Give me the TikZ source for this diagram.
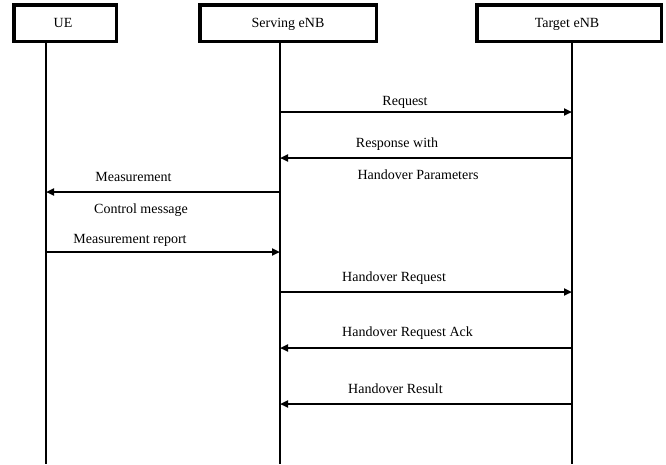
\documentclass[tikz,border=0pt]{standalone}
\usepackage{fontspec}
\setmainfont{Liberation Serif}
\usetikzlibrary{arrows.meta}
\tikzset{
	entity/.style={draw,line width=3.5pt,inner sep=0pt,minimum height=36.5pt},
	life/.style={line width=2pt},
	msg/.style={line width=2.3pt,-{Triangle[length=8pt,width=7pt]}},
	lbl/.style={anchor=base,inner sep=0pt}
}
\begin{document}
\begin{tikzpicture}[x=1pt,y=-1pt,font=\fontsize{14}{16}\selectfont]
\useasboundingbox (0,0) rectangle (666,464);
\node [entity,minimum width=102.5pt] (ue) at (65,23) {};
\node [entity,minimum width=176.5pt] (serving) at (288,23) {};
\node [entity,minimum width=184.5pt] (target) at (569,23) {};
\node [lbl] (uetext) at (63,27) {UE};
\node [lbl] (servingtext) at (288,27) {Serving eNB};
\node [lbl] (targettext) at (567,27) {Target eNB};
\coordinate (uebot) at (46,464);
\coordinate (servingbot) at (280,464);
\coordinate (targetbot) at (572,464);
\draw [life] (ue.south -| uebot) -- (uebot);
\draw [life] (serving.south -| servingbot) -- (servingbot);
\draw [life] (target.south -| targetbot) -- (targetbot);
\foreach \n/\y in {1/112,2/158,3/192,4/252,5/292,6/348,7/404}{
	\coordinate (u\n) at (46,\y);
	\coordinate (s\n) at (280,\y);
	\coordinate (t\n) at (572,\y);
}
\draw [msg] (s1) -- (t1);
\draw [msg] (t2) -- (s2);
\draw [msg] (s3) -- (u3);
\draw [msg] (u4) -- (s4);
\draw [msg] (s5) -- (t5);
\draw [msg] (t6) -- (s6);
\draw [msg] (t7) -- (s7);
\node [lbl] (request) at (405,105) {Request};
\node [lbl] (response) at (397,147) {Response with};
\node [lbl] (params) at (418,179) {Handover Parameters};
\node [lbl] (meas) at (133.5,181) {Measurement};
\node [lbl,anchor=base west] (control) at (94,213) {Control message};
\node [lbl] (report) at (130,243) {Measurement report};
\node [lbl,anchor=base west] (horeq) at (342,281) {Handover Request};
\node [lbl,anchor=base west] (hoack) at (342,336) {Handover Request Ack};
\node [lbl,anchor=base west] (hores) at (348,393) {Handover Result};
\end{tikzpicture}
\end{document}
